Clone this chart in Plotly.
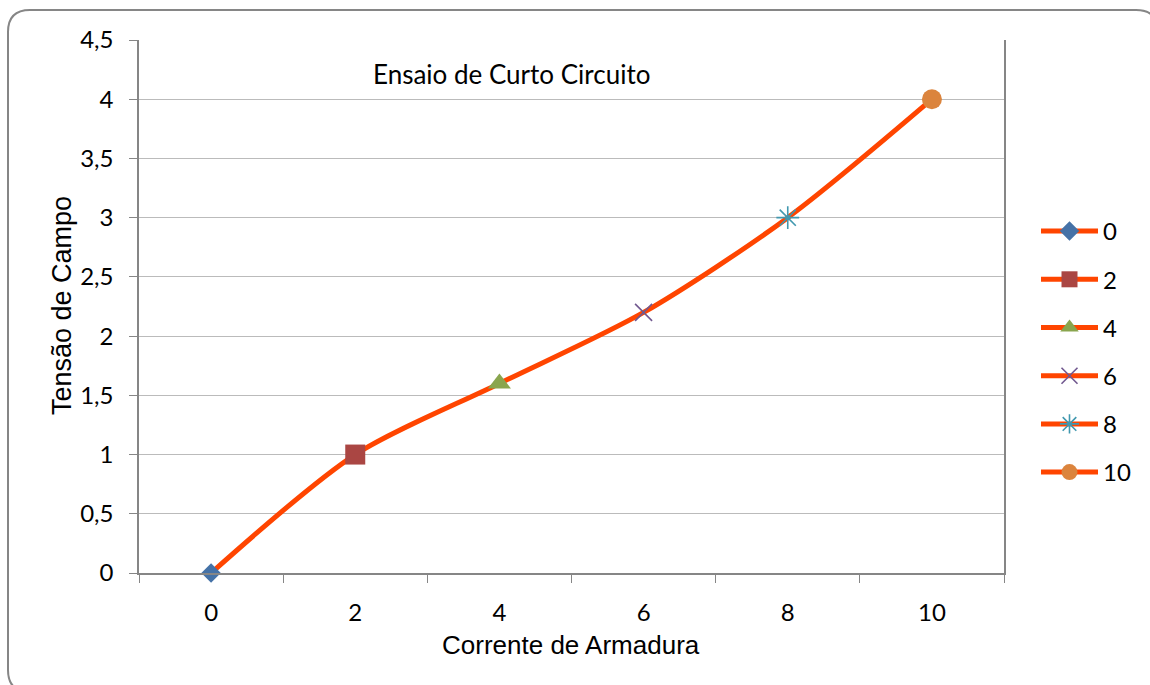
import plotly.graph_objects as go

# Short-circuit test: armature current vs field voltage
corrente = ["0", "2", "4", "6", "8", "10"]
tensao = [0, 1, 1.6, 2.2, 3, 4]
simbolos = ["diamond", "square", "triangle-up", "x-thin", "asterisk", "circle"]
cores = ["#4572A7", "#AA4643", "#89A54E", "#71588F", "#4198AF", "#DB843D"]
tamanhos = [15, 20, 20, 17, 19, 20]

W, H = 1150, 685
L, R, T, B = 139, 1004, 40, 573  # plot area in pixels


def px(x):
    return (x - L) / (R - L)


def py(y):
    return (B - y) / (B - T)


LINE = "#FF4500"
fig = go.Figure()

# smoothed curve through all points
fig.add_trace(go.Scatter(
    x=corrente, y=tensao, mode="lines",
    line=dict(color=LINE, width=5, shape="spline", smoothing=0.8),
    showlegend=False, hoverinfo="skip",
))

# one marker per point, each with its own legend entry
for i, (c, v) in enumerate(zip(corrente, tensao)):
    open_sym = simbolos[i] in ("x-thin", "asterisk")
    marker = dict(symbol=simbolos[i], size=tamanhos[i], color=cores[i],
                  line=dict(color=cores[i], width=1.6 if open_sym else 0))
    fig.add_trace(go.Scatter(
        x=[c], y=[v], mode="lines+markers", name=c,
        legendgroup=c, cliponaxis=False,
        line=dict(color=LINE, width=5),
        marker=marker,
    ))

# rounded chart frame
x0, x1, y0, y1, r = 8, 1158, 10, 692, 22
path = (
    f"M {px(x0)},{py(y0 + r)} "
    f"Q {px(x0)},{py(y0)} {px(x0 + r)},{py(y0)} "
    f"L {px(x1 - r)},{py(y0)} "
    f"Q {px(x1)},{py(y0)} {px(x1)},{py(y0 + r)} "
    f"L {px(x1)},{py(y1 - r)} "
    f"Q {px(x1)},{py(y1)} {px(x1 - r)},{py(y1)} "
    f"L {px(x0 + r)},{py(y1)} "
    f"Q {px(x0)},{py(y1)} {px(x0)},{py(y1 - r)} Z"
)
fig.add_shape(type="path", path=path, xref="paper", yref="paper",
              line=dict(color="#868686", width=2), layer="below")

tick_font = dict(family="Lato, Open Sans, sans-serif", size=24, color="#000000")
axis_title_font = dict(family="Liberation Sans, Arial, sans-serif", size=26, color="#000000")

fig.add_annotation(text="Ensaio de Curto Circuito", x=px(511), y=py(74),
                   xref="paper", yref="paper", showarrow=False,
                   xanchor="center", yanchor="middle", font=dict(tick_font, size=26))
fig.add_annotation(text="Corrente de Armadura", x=px(571), y=py(645),
                   xref="paper", yref="paper", showarrow=False,
                   xanchor="center", yanchor="middle", font=axis_title_font)
fig.add_annotation(text="Tensão de Campo", x=px(62), y=py(306),
                   xref="paper", yref="paper", showarrow=False, textangle=-90,
                   xanchor="center", yanchor="middle",
                   font=dict(axis_title_font, size=27))

fig.update_xaxes(
    type="category", range=[-0.5, 5.5], tickson="boundaries",
    ticks="outside", ticklen=8,
    tickcolor="#868686", showline=True, linecolor="#868686", linewidth=1.5,
    showgrid=False, tickfont=tick_font, ticklabelstandoff=17,
)
fig.update_yaxes(
    range=[0, 4.5], dtick=0.5, ticks="outside", ticklen=8, tickcolor="#868686",
    showline=True, linecolor="#868686", linewidth=1.5, mirror=True,
    showgrid=True, gridcolor="#BBBBBB", gridwidth=1.2, zeroline=False,
    tickfont=tick_font, ticklabelstandoff=11,
)

fig.update_layout(
    width=W, height=H,
    margin=dict(l=L, r=W - R, t=T, b=H - B),
    paper_bgcolor="white", plot_bgcolor="white",
    separators=",.",
    showlegend=True,
    legend=dict(
        x=px(1036), y=py(209), xanchor="left", yanchor="top",
        font=tick_font, itemwidth=57, traceorder="grouped",
        tracegroupgap=14, bgcolor="rgba(0,0,0,0)", itemsizing="trace",
    ),
)

fig.write_html("out.html")
